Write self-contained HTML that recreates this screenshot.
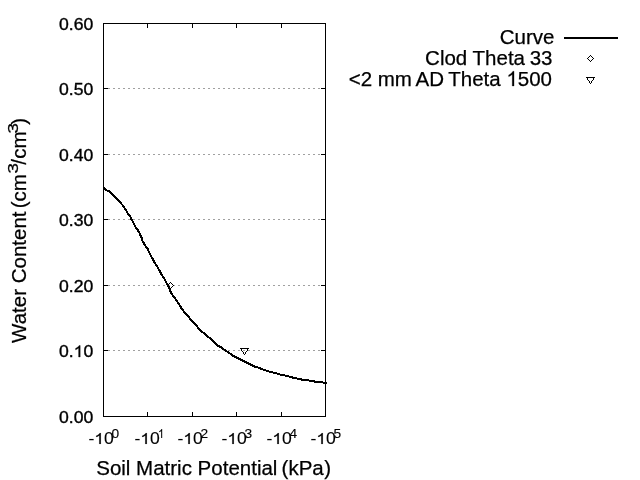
<!DOCTYPE html>
<html><head><meta charset="utf-8"><style>
html,body{margin:0;padding:0;background:#fff;width:640px;height:480px;overflow:hidden}
svg{display:block;will-change:transform}
text{font-family:"Liberation Sans",sans-serif;fill:#000}
.tk text{stroke:#000;stroke-width:0.35px}
.tk .xl text{stroke-width:0.12px}
.tt{stroke:#000;stroke-width:0.25px}
</style></head><body>
<svg width="640" height="480" viewBox="0 0 640 480">
<rect width="640" height="480" fill="#fff"/>
<g shape-rendering="crispEdges">
<path d="M108 88.5H321" stroke="#a0a0a0" stroke-width="1" stroke-dasharray="2 3"/><path d="M108 154.5H321" stroke="#a0a0a0" stroke-width="1" stroke-dasharray="2 3"/><path d="M108 219.5H321" stroke="#a0a0a0" stroke-width="1" stroke-dasharray="2 3"/><path d="M108 285.5H321" stroke="#a0a0a0" stroke-width="1" stroke-dasharray="2 3"/><path d="M108 350.5H321" stroke="#a0a0a0" stroke-width="1" stroke-dasharray="2 3"/>
</g>
<g shape-rendering="crispEdges" stroke="#000" stroke-width="1" fill="none">
<rect x="103.5" y="23.5" width="222" height="393" fill="none" stroke="#000" stroke-width="1"/>
<path d="M104 88.5h4M321 88.5h4"/><path d="M104 154.5h4M321 154.5h4"/><path d="M104 219.5h4M321 219.5h4"/><path d="M104 285.5h4M321 285.5h4"/><path d="M104 350.5h4M321 350.5h4"/><path d="M147.5 412v4M147.5 24v4"/><path d="M192.5 412v4M192.5 24v4"/><path d="M236.5 412v4M236.5 24v4"/><path d="M281.5 412v4M281.5 24v4"/>
</g>
<polyline points="103.75,187.60 106.25,190.10 108.10,191.10 110.00,191.70 112.50,194.20 115.60,197.60 118.10,200.40 121.25,203.60 123.40,206.10 125.60,209.50 127.75,213.50 129.90,215.70 130.90,218.20 132.75,221.60 134.30,224.75 135.90,227.60 137.75,230.00 139.30,232.60 140.20,235.00 141.75,238.10 142.40,240.60 143.90,243.40 145.80,246.25 148.00,249.10 148.90,251.90 150.50,255.00 152.40,258.40 155.00,263.40 157.20,266.60 159.00,269.70 160.90,273.40 163.10,276.90 165.30,280.30 167.40,284.70 169.00,287.50 169.90,290.30 171.40,293.40 173.70,296.60 175.90,299.70 178.10,302.80 180.20,306.25 182.40,309.60 185.10,312.90 189.20,317.10 190.00,319.20 193.30,322.50 196.70,325.80 197.90,327.90 200.80,330.80 204.20,333.30 208.40,337.10 211.30,339.20 214.70,342.50 218.00,345.80 221.30,347.50 224.70,350.00 228.80,352.50 233.00,355.80 237.20,357.90 241.30,360.00 244.70,361.70 247.75,363.10 251.50,365.00 255.25,366.90 259.00,367.80 262.75,369.40 266.50,370.60 270.25,371.90 274.00,372.80 277.75,373.75 281.50,375.00 284.00,375.30 288.50,376.30 293.30,377.70 297.70,378.70 302.60,379.75 308.40,380.40 315.60,381.70 322.50,382.50 326.80,382.90" fill="none" stroke="#000" stroke-width="2" stroke-linejoin="round" shape-rendering="crispEdges"/>
<g fill="#000" shape-rendering="crispEdges">
<rect x="170" y="282" width="1" height="1"/><rect x="169" y="283" width="1" height="1"/><rect x="171" y="283" width="1" height="1"/><rect x="168" y="284" width="1" height="1"/><rect x="172" y="284" width="1" height="1"/><rect x="167" y="285" width="1" height="1"/><rect x="173" y="285" width="1" height="1"/><rect x="168" y="286" width="1" height="1"/><rect x="172" y="286" width="1" height="1"/><rect x="169" y="287" width="1" height="1"/><rect x="171" y="287" width="1" height="1"/><rect x="170" y="288" width="1" height="1"/>
<rect x="240" y="348" width="1" height="1"/><rect x="241" y="348" width="1" height="1"/><rect x="242" y="348" width="1" height="1"/><rect x="243" y="348" width="1" height="1"/><rect x="244" y="348" width="1" height="1"/><rect x="245" y="348" width="1" height="1"/><rect x="246" y="348" width="1" height="1"/><rect x="247" y="348" width="1" height="1"/><rect x="248" y="348" width="1" height="1"/><rect x="241" y="349" width="1" height="1"/><rect x="247" y="349" width="1" height="1"/><rect x="241" y="350" width="1" height="1"/><rect x="247" y="350" width="1" height="1"/><rect x="242" y="351" width="1" height="1"/><rect x="246" y="351" width="1" height="1"/><rect x="243" y="352" width="1" height="1"/><rect x="245" y="352" width="1" height="1"/><rect x="243" y="353" width="1" height="1"/><rect x="245" y="353" width="1" height="1"/><rect x="244" y="354" width="1" height="1"/>
<rect x="590" y="55" width="1" height="1"/><rect x="589" y="56" width="1" height="1"/><rect x="591" y="56" width="1" height="1"/><rect x="588" y="57" width="1" height="1"/><rect x="592" y="57" width="1" height="1"/><rect x="587" y="58" width="1" height="1"/><rect x="593" y="58" width="1" height="1"/><rect x="588" y="59" width="1" height="1"/><rect x="592" y="59" width="1" height="1"/><rect x="589" y="60" width="1" height="1"/><rect x="591" y="60" width="1" height="1"/><rect x="590" y="61" width="1" height="1"/>
<rect x="586" y="77" width="1" height="1"/><rect x="587" y="77" width="1" height="1"/><rect x="588" y="77" width="1" height="1"/><rect x="589" y="77" width="1" height="1"/><rect x="590" y="77" width="1" height="1"/><rect x="591" y="77" width="1" height="1"/><rect x="592" y="77" width="1" height="1"/><rect x="593" y="77" width="1" height="1"/><rect x="594" y="77" width="1" height="1"/><rect x="587" y="78" width="1" height="1"/><rect x="593" y="78" width="1" height="1"/><rect x="587" y="79" width="1" height="1"/><rect x="593" y="79" width="1" height="1"/><rect x="588" y="80" width="1" height="1"/><rect x="592" y="80" width="1" height="1"/><rect x="589" y="81" width="1" height="1"/><rect x="591" y="81" width="1" height="1"/><rect x="589" y="82" width="1" height="1"/><rect x="591" y="82" width="1" height="1"/><rect x="590" y="83" width="1" height="1"/>
<rect x="564" y="37" width="54" height="2"/>
</g>
<g class="tk">
<text transform="translate(93.2,30) scale(1.1,1)" text-anchor="end" font-size="16">0.60</text><text transform="translate(93.2,95) scale(1.1,1)" text-anchor="end" font-size="16">0.50</text><text transform="translate(93.2,161) scale(1.1,1)" text-anchor="end" font-size="16">0.40</text><text transform="translate(93.2,226) scale(1.1,1)" text-anchor="end" font-size="16">0.30</text><text transform="translate(93.2,292) scale(1.1,1)" text-anchor="end" font-size="16">0.20</text><text transform="translate(93.2,357) scale(1.1,1)" text-anchor="end" font-size="16">0.&#x2007;0</text><path transform="translate(73.623,357) scale(0.008594,-0.007812)" d="M763 0H583V1147C540 1106 483 1064 413 1023C343 982 280 951 225 930V1104C326 1151 413 1209 488 1276C563 1343 616 1408 647 1472H763Z" stroke="#000" stroke-width="0.35" vector-effect="non-scaling-stroke"/><text transform="translate(93.2,423) scale(1.1,1)" text-anchor="end" font-size="16">0.00</text>
<g class="xl" transform="translate(88.4,444) scale(1.1,1)"><text x="0" y="0" font-size="16">-&#x2007;0</text><path transform="translate(5.328,0) scale(0.007812,-0.007422)" d="M763 0H583V1147C540 1106 483 1064 413 1023C343 982 280 951 225 930V1104C326 1151 413 1209 488 1276C563 1343 616 1408 647 1472H763Z" stroke="#000" stroke-width="0.12" vector-effect="non-scaling-stroke"/><text x="21" y="-6" font-size="12.5">0</text></g><g class="xl" transform="translate(134.4,444) scale(1.1,1)"><text x="0" y="0" font-size="16">-&#x2007;0</text><path transform="translate(5.328,0) scale(0.007812,-0.007422)" d="M763 0H583V1147C540 1106 483 1064 413 1023C343 982 280 951 225 930V1104C326 1151 413 1209 488 1276C563 1343 616 1408 647 1472H763Z" stroke="#000" stroke-width="0.12" vector-effect="non-scaling-stroke"/><path transform="translate(21.300,-6) scale(0.005188,-0.006104)" d="M763 0H583V1147C540 1106 483 1064 413 1023C343 982 280 951 225 930V1104C326 1151 413 1209 488 1276C563 1343 616 1408 647 1472H763Z"/></g><g class="xl" transform="translate(177.4,444) scale(1.1,1)"><text x="0" y="0" font-size="16">-&#x2007;0</text><path transform="translate(5.328,0) scale(0.007812,-0.007422)" d="M763 0H583V1147C540 1106 483 1064 413 1023C343 982 280 951 225 930V1104C326 1151 413 1209 488 1276C563 1343 616 1408 647 1472H763Z" stroke="#000" stroke-width="0.12" vector-effect="non-scaling-stroke"/><text x="21" y="-6" font-size="12.5">2</text></g><g class="xl" transform="translate(221.4,444) scale(1.1,1)"><text x="0" y="0" font-size="16">-&#x2007;0</text><path transform="translate(5.328,0) scale(0.007812,-0.007422)" d="M763 0H583V1147C540 1106 483 1064 413 1023C343 982 280 951 225 930V1104C326 1151 413 1209 488 1276C563 1343 616 1408 647 1472H763Z" stroke="#000" stroke-width="0.12" vector-effect="non-scaling-stroke"/><text x="21" y="-6" font-size="12.5">3</text></g><g class="xl" transform="translate(266.4,444) scale(1.1,1)"><text x="0" y="0" font-size="16">-&#x2007;0</text><path transform="translate(5.328,0) scale(0.007812,-0.007422)" d="M763 0H583V1147C540 1106 483 1064 413 1023C343 982 280 951 225 930V1104C326 1151 413 1209 488 1276C563 1343 616 1408 647 1472H763Z" stroke="#000" stroke-width="0.12" vector-effect="non-scaling-stroke"/><text x="21" y="-6" font-size="12.5">4</text></g><g class="xl" transform="translate(310.4,444) scale(1.1,1)"><text x="0" y="0" font-size="16">-&#x2007;0</text><path transform="translate(5.328,0) scale(0.007812,-0.007422)" d="M763 0H583V1147C540 1106 483 1064 413 1023C343 982 280 951 225 930V1104C326 1151 413 1209 488 1276C563 1343 616 1408 647 1472H763Z" stroke="#000" stroke-width="0.12" vector-effect="non-scaling-stroke"/><text x="21" y="-6" font-size="12.5">5</text></g>
</g>
<text class="tt" transform="translate(213.6,475) scale(1.0,1)" text-anchor="middle" font-size="20.5">Soil Matric Potential <tspan dx="-1.5">(kPa</tspan><tspan dx="0.4">)</tspan></text>
<g transform="translate(26,229) rotate(-90)" font-size="20.5">
<text class="tt" x="-113.9" y="0">Water Content <tspan dx="-2.5">(cm</tspan></text>
<text class="tt" transform="translate(55.5,-8) scale(1.25,1)" font-size="15">3</text>
<text class="tt" x="64.3" y="0">/</text>
<text class="tt" x="70.2" y="0">cm</text>
<text class="tt" transform="translate(95.5,-8) scale(1.25,1)" font-size="15">3</text>
<text class="tt" x="104.3" y="0">)</text>
</g>
<text class="tt" transform="translate(554.5,44) scale(1.0,1)" text-anchor="end" font-size="20.5">Curve</text>
<text class="tt" transform="translate(552.5,65) scale(1.0,1)" text-anchor="end" font-size="20.5">Clod Theta <tspan dx="-1">33</tspan></text>
<text class="tt" transform="translate(552,86) scale(1.0,1)" text-anchor="end" font-size="20.5">&lt;2 mm <tspan dx="-1">AD</tspan> <tspan dx="-1">Theta &#x2007;500</tspan></text>
<path transform="translate(506.396,86) scale(0.010010,-0.010010)" d="M763 0H583V1147C540 1106 483 1064 413 1023C343 982 280 951 225 930V1104C326 1151 413 1209 488 1276C563 1343 616 1408 647 1472H763Z" stroke="#000" stroke-width="0.25" vector-effect="non-scaling-stroke"/>
</svg>
</body></html>
